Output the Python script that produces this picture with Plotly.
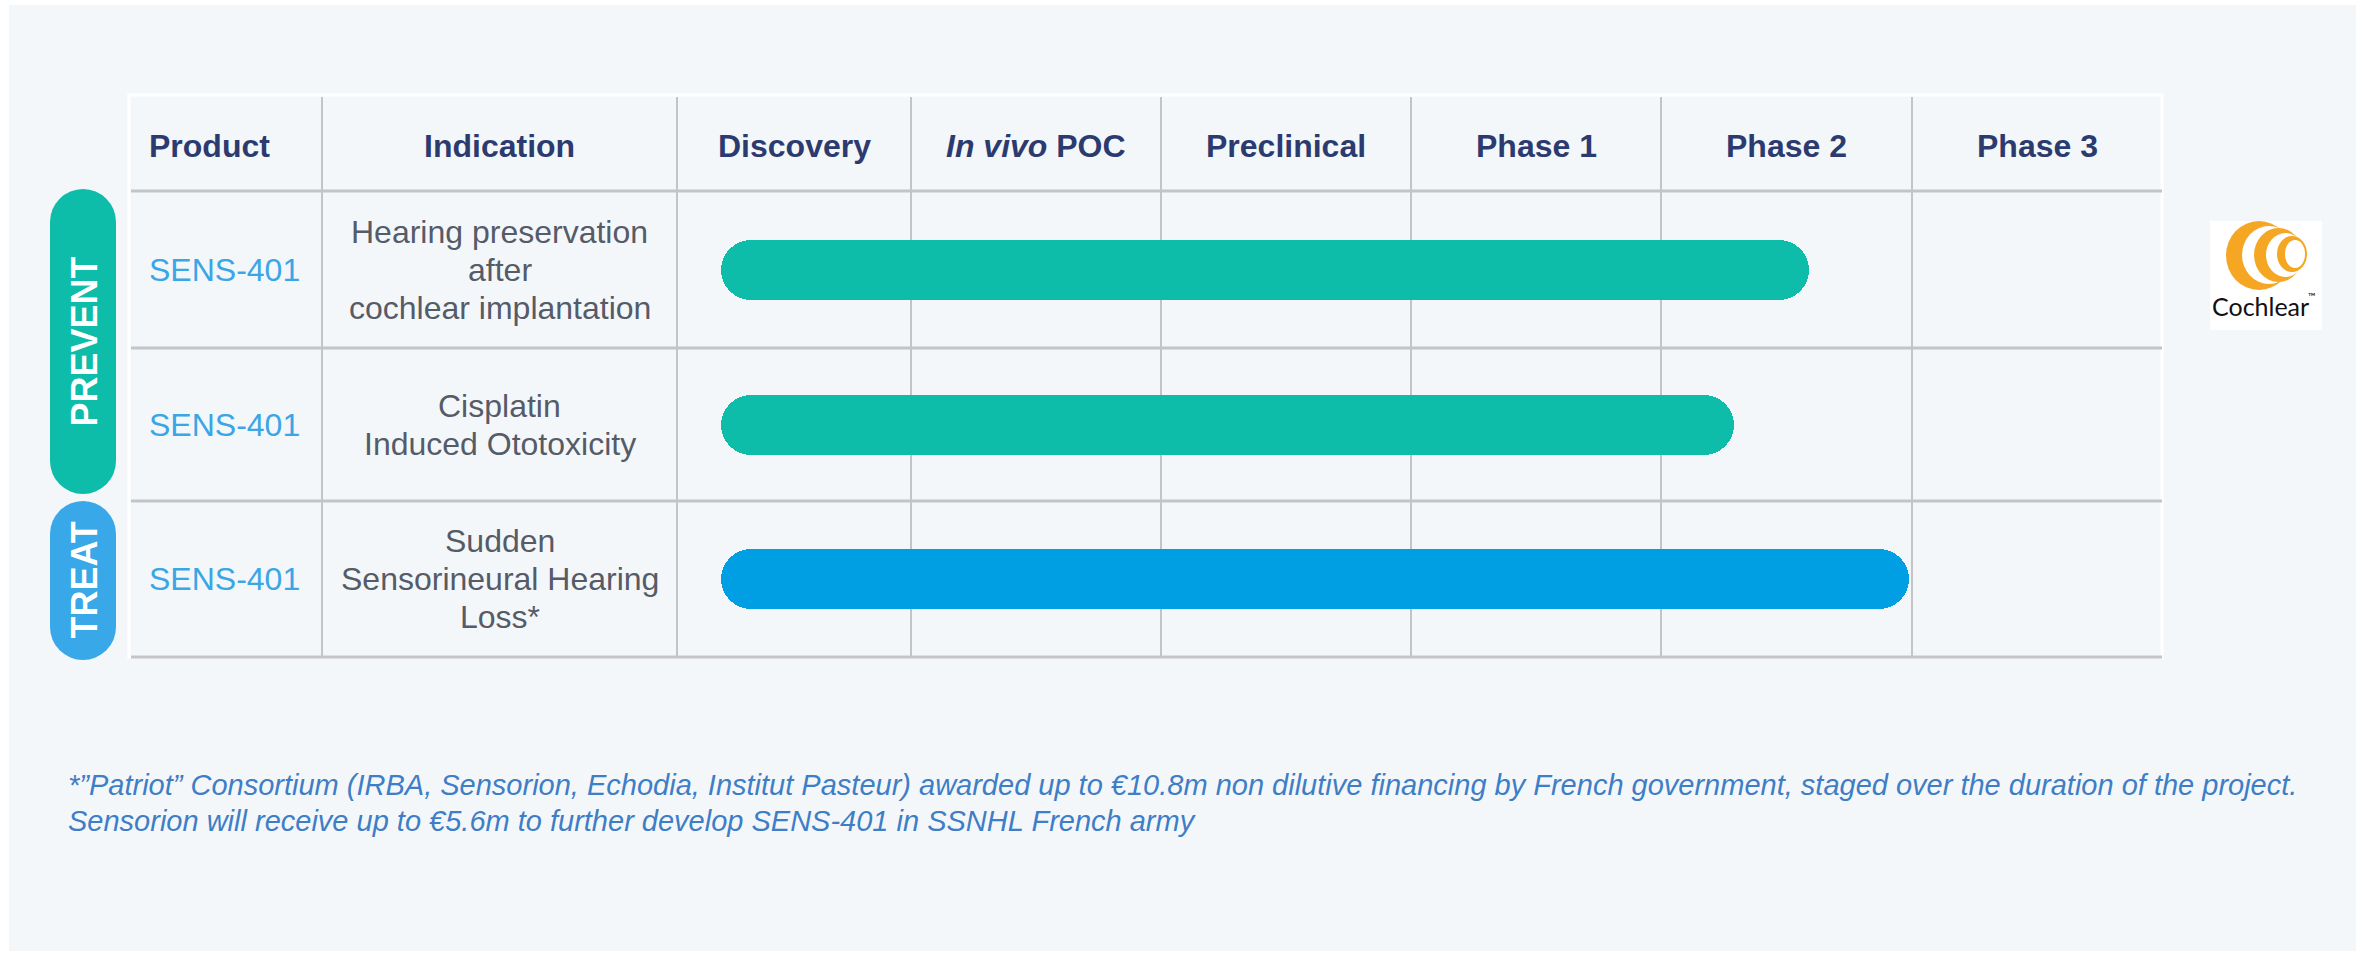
"""
Sensorion pipeline chart (SENS-401) rebuilt with Plotly
"""

import plotly.graph_objects as go

# ---- data ----
stages = ['Discovery', '<i>In vivo</i> POC', 'Preclinical', 'Phase 1', 'Phase 2', 'Phase 3']
products = ['SENS-401', 'SENS-401', 'SENS-401']
indications = [
    ['Hearing preservation', 'after', 'cochlear implantation'],
    ['Cisplatin', 'Induced Ototoxicity'],
    ['Sudden', 'Sensorineural Hearing', 'Loss*'],
]
groups = ['PREVENT', 'TREAT']
# progress in stage units: 0 = start of Discovery, 6 = end of Phase 3
bar_start = [0.19, 0.19, 0.19]
bar_end = [4.59, 4.29, 4.99]
bar_colors = ['#0DBCA9', '#0DBCA9', '#009FE3']
group_colors = ['#0DBCA9', '#38A8E8']
footnote = [
    '*\u201dPatriot\u201d Consortium (IRBA, Sensorion, Echodia, Institut Pasteur) awarded up to '
    '\u20ac10.8m non dilutive financing by French government, staged over the duration of the project.',
    'Sensorion will receive up to \u20ac5.6m to further develop SENS-401 in SSNHL French army',
]

# ---- layout (pixel space) ----
W, H = 2362, 955
FONT = 'Liberation Sans, Arial, sans-serif'
NAVY = '#2C3B6F'
GRID = '#C3C4C8'
BG = '#F4F7FA'
col_edges = [131, 322, 677, 911, 1161, 1411, 1661, 1912, 2162]
row_edges = [95, 191, 348, 501, 657]
row_mid = [(row_edges[i + 1] + row_edges[i + 2]) / 2 for i in range(len(products))]


def stage_x(p):
    i = min(int(p), len(stages) - 1)
    x0, x1 = col_edges[2 + i], col_edges[3 + i]
    return x0 + (p - i) * (x1 - x0)


x_start = [stage_x(p) for p in bar_start]
x_end = [stage_x(p) for p in bar_end]
x_mid = [(a + b) / 2 for a, b in zip(x_start, x_end)]
OVERLAP = 40

fig = go.Figure()

# pill-shaped bars: two overlapping halves, each rounded at its outer end
fig.add_trace(go.Bar(
    y=row_mid, base=[m - OVERLAP for m in x_mid],
    x=[e - m + OVERLAP for e, m in zip(x_end, x_mid)],
    orientation='h', width=60,
    marker=dict(color=bar_colors, cornerradius='50%', line_width=0),
    hoverinfo='skip', showlegend=False,
))
fig.add_trace(go.Bar(
    y=row_mid, base=[m + OVERLAP for m in x_mid],
    x=[s - m - OVERLAP for s, m in zip(x_start, x_mid)],
    orientation='h', width=60,
    marker=dict(color=bar_colors, cornerradius='50%', line_width=0),
    hoverinfo='skip', showlegend=False,
))

shapes = []
# page background with thin white frame
shapes.append(dict(type='rect', x0=9, x1=W - 6, y0=5, y1=H - 4,
                   fillcolor=BG, line_width=0, layer='below'))
# table frame (white top / left / right)
shapes.append(dict(type='rect', x0=col_edges[0] - 2, x1=col_edges[-1], y0=row_edges[0],
                   y1=row_edges[-1], fillcolor=BG, line=dict(color='white', width=3), layer='below'))
# vertical grid lines
for x in col_edges[1:-1]:
    shapes.append(dict(type='line', x0=x, x1=x, y0=row_edges[0] + 2, y1=row_edges[-1],
                       line=dict(color=GRID, width=2), layer='below'))
# horizontal grid lines
for y in row_edges[1:]:
    shapes.append(dict(type='line', x0=col_edges[0], x1=col_edges[-1], y0=y, y1=y,
                       line=dict(color=GRID, width=3), layer='below'))

annotations = []
# headers
annotations.append(dict(x=147, y=146, text='Product', xanchor='left'))
annotations.append(dict(x=(col_edges[1] + col_edges[2]) / 2, y=146, text='Indication'))
for i, s in enumerate(stages):
    annotations.append(dict(x=(col_edges[2 + i] + col_edges[3 + i]) / 2, y=146, text=s))
for a in annotations:
    a.update(font=dict(family=FONT, size=32, color=NAVY, weight='bold'))

# product and indication cells
for i, prod in enumerate(products):
    annotations.append(dict(x=147, y=row_mid[i], text=prod, xanchor='left',
                            font=dict(family=FONT, size=32, color='#3AA6E6')))
    lines = indications[i]
    for k, ln in enumerate(lines):
        annotations.append(dict(
            x=(col_edges[1] + col_edges[2]) / 2,
            y=row_mid[i] + (k - (len(lines) - 1) / 2) * 38, text=ln,
            font=dict(family=FONT, size=32, color='#555B67')))

# group pills
pill_x0, pill_x1 = 50, 116
r = (pill_x1 - pill_x0) / 2
pill_spans = [(189, 494), (501, 660)]
for g, (y0, y1), c in zip(groups, pill_spans, group_colors):
    shapes.append(dict(type='rect', x0=pill_x0, x1=pill_x1, y0=y0 + r, y1=y1 - r,
                       fillcolor=c, line_width=0))
    shapes.append(dict(type='circle', x0=pill_x0, x1=pill_x1, y0=y0, y1=y0 + 2 * r,
                       fillcolor=c, line_width=0))
    shapes.append(dict(type='circle', x0=pill_x0, x1=pill_x1, y0=y1 - 2 * r, y1=y1,
                       fillcolor=c, line_width=0))
    annotations.append(dict(x=(pill_x0 + pill_x1) / 2 + 1, y=(y0 + y1) / 2, text=g,
                            textangle=-90,
                            font=dict(family=FONT, size=36, color='white', weight='bold')))

# Cochlear logo
shapes.append(dict(type='rect', x0=2210, x1=2322, y0=221, y1=330,
                   fillcolor='white', line_width=0))
for (ox0, ox1, oy0, oy1), (ix0, ix1, iy0, iy1) in [
    ((2226, 2292, 221, 290), (2242, 2296, 226, 284)),
    ((2254, 2303, 228, 282), (2266, 2305, 233, 277)),
    ((2277, 2307, 236, 272), (2285, 2305, 240, 268)),
]:
    shapes.append(dict(type='circle', x0=ox0, x1=ox1, y0=oy0, y1=oy1,
                       fillcolor='#F5A623', line_width=0))
    shapes.append(dict(type='circle', x0=ix0, x1=ix1, y0=iy0, y1=iy1,
                       fillcolor='white', line_width=0))
annotations.append(dict(x=2210, y=306, text='Cochlear', xanchor='left',
                        font=dict(family='Lato, Liberation Sans, sans-serif', size=25,
                                  color='#111111')))
annotations.append(dict(x=2306, y=296, text='\u2122', xanchor='left',
                        font=dict(family='Lato, Liberation Sans, sans-serif', size=10,
                                  color='#111111')))

# footnote
for k, ln in enumerate(footnote):
    annotations.append(dict(x=66, y=785 + 36 * k, text=ln, xanchor='left',
                            font=dict(family=FONT, size=29, color='#3E7EC6', style='italic')))

for a in annotations:
    a.update(xref='x', yref='y', showarrow=False)
    a.setdefault('yanchor', 'middle')

fig.update_layout(
    width=W, height=H,
    margin=dict(l=0, r=0, t=0, b=0),
    paper_bgcolor='white', plot_bgcolor='white',
    barmode='overlay', bargap=0,
    shapes=shapes, annotations=annotations,
    showlegend=False,
)
fig.update_xaxes(range=[0, W], visible=False, fixedrange=True)
fig.update_yaxes(range=[H, 0], visible=False, fixedrange=True)

fig.write_html('out.html', config={'displayModeBar': False},
               post_script="document.body.style.margin='0';")
